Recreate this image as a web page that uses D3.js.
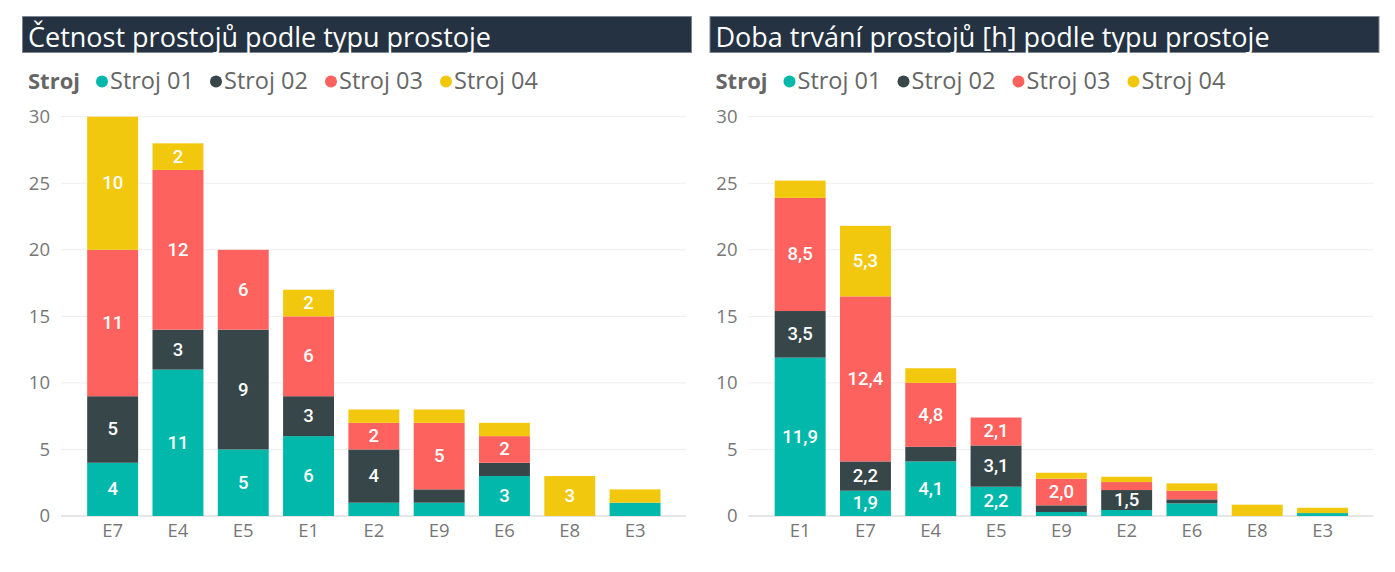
<!DOCTYPE html>
<html>
<head>
<meta charset="utf-8">
<script src="https://cdn.jsdelivr.net/npm/d3@7"></script>
<style>
  html, body { margin: 0; padding: 0; background: #fff; }
  svg { display: block; }
  text { font-family: "Segoe UI", "Open Sans", "Noto Sans", sans-serif; }
</style>
</head>
<body>
<svg id="chart" width="1395" height="572"></svg>
<script>
// ---------- DATA ----------
const seriesNames = ["Stroj 01", "Stroj 02", "Stroj 03", "Stroj 04"];
const seriesColors = ["#01B8AA", "#374649", "#FD625E", "#F2C80F"];
const yTicks = [0, 5, 10, 15, 20, 25, 30];

const countTitle = "Četnost prostojů podle typu prostoje";
const countCategories = ["E7", "E4", "E5", "E1", "E2", "E9", "E6", "E8", "E3"];
const countStroj01 = [4, 11, 5, 6, 1, 1, 3, 0, 1];
const countStroj02 = [5, 3, 9, 3, 4, 1, 1, 0, 0];
const countStroj03 = [11, 12, 6, 6, 2, 5, 2, 0, 0];
const countStroj04 = [10, 2, 0, 2, 1, 1, 1, 3, 1];

const durTitle = "Doba trvání prostojů [h] podle typu prostoje";
const durCategories = ["E1", "E7", "E4", "E5", "E9", "E2", "E6", "E8", "E3"];
const durStroj01 = [11.9, 1.9, 4.1, 2.2, 0.3, 0.45, 0.95, 0, 0.22];
const durStroj02 = [3.5, 2.2, 1.1, 3.1, 0.5, 1.5, 0.3, 0, 0];
const durStroj03 = [8.5, 12.4, 4.8, 2.1, 2.0, 0.6, 0.65, 0, 0];
const durStroj04 = [1.3, 5.3, 1.1, 0, 0.45, 0.4, 0.55, 0.85, 0.4];

// ---------- DRAW ----------
const svg = d3.select("#chart");

function buildRows(cats, arrays) {
  return cats.map((c, i) => {
    const row = { cat: c };
    seriesNames.forEach((s, k) => row[s] = arrays[k][i]);
    return row;
  });
}

function drawPanel(offsetX, title, cats, arrays, fmt) {
  const g = svg.append("g").attr("transform", `translate(${offsetX},0)`);

  // title bar
  g.append("rect")
    .attr("x", 22.5).attr("y", 16.5).attr("width", 669).attr("height", 36)
    .attr("fill", "#253242").attr("stroke", "#7d8591").attr("stroke-width", 1);
  g.append("text")
    .attr("x", 28).attr("y", 46.5)
    .attr("fill", "#ffffff").attr("font-size", 27)
    .text(title);

  // legend
  const leg = g.append("g").attr("transform", "translate(28,89)");
  leg.append("text").attr("x", 0).attr("y", 0)
    .attr("fill", "#666666").attr("font-size", 22).attr("font-weight", 700)
    .text("Stroj");
  const legendX = [74, 188, 303, 418];
  seriesNames.forEach((s, k) => {
    const it = leg.append("g").attr("transform", `translate(${legendX[k]},0)`);
    it.append("circle").attr("cx", 0).attr("cy", -7.5).attr("r", 6).attr("fill", seriesColors[k]);
    it.append("text").attr("x", 8).attr("y", 0)
      .attr("fill", "#666666").attr("font-size", 23.5).text(s);
  });

  // scales
  const y = d3.scaleLinear().domain([0, 30]).range([516, 116.7]);
  const x = d3.scaleBand().domain(cats).range([80, 667.7])
    .paddingInner(0.22).paddingOuter(0.11);

  // gridlines
  g.append("g").selectAll("line").data(yTicks).join("line")
    .attr("x1", 61).attr("x2", 686)
    .attr("y1", d => y(d)).attr("y2", d => y(d))
    .attr("stroke", d => d === 0 ? "#e6e6e6" : "#eeeeee")
    .attr("stroke-width", d => d === 0 ? 2 : 1);

  // y axis
  const yAxis = d3.axisLeft(y).tickValues(yTicks).tickSize(0).tickPadding(0);
  const ya = g.append("g").attr("transform", "translate(50,0)").call(yAxis);
  ya.select(".domain").remove();
  ya.selectAll("text").attr("fill", "#777777").attr("font-size", 18.5)
    .attr("font-family", '"Segoe UI", "Open Sans", sans-serif');

  // x axis
  const xAxis = d3.axisBottom(x).tickSize(0).tickPadding(0);
  const xa = g.append("g").attr("transform", "translate(0,524)").call(xAxis);
  xa.select(".domain").remove();
  xa.selectAll("text").attr("fill", "#777777").attr("font-size", 18.5)
    .attr("font-family", '"Segoe UI", "Open Sans", sans-serif');

  // stacked bars
  const rows = buildRows(cats, arrays);
  const stacked = d3.stack().keys(seriesNames)(rows);

  const layers = g.append("g").selectAll("g").data(stacked).join("g")
    .attr("fill", (d, k) => seriesColors[k]);
  layers.selectAll("rect").data(d => d.filter(p => p[1] - p[0] > 0)).join("rect")
    .attr("x", d => x(d.data.cat))
    .attr("width", x.bandwidth())
    .attr("y", d => y(d[1]))
    .attr("height", d => y(d[0]) - y(d[1]));

  // labels
  const labels = g.append("g");
  stacked.forEach((layer, k) => {
    layer.forEach(p => {
      const h = y(p[0]) - y(p[1]);
      if (h >= 19) {
        labels.append("text")
          .attr("x", x(p.data.cat) + x.bandwidth() / 2)
          .attr("y", (y(p[0]) + y(p[1])) / 2)
          .attr("text-anchor", "middle")
          .attr("dominant-baseline", "central")
          .attr("fill", "#ffffff")
          .attr("font-size", 18.5).attr("font-weight", 500)
          .style("font-family", "Roboto, sans-serif")
          .text(fmt(p[1] - p[0]));
      }
    });
  });
}

const fmtInt = d3.format("d");
const fmtDec = v => d3.format(".1f")(v).replace(".", ",");

drawPanel(0, countTitle, countCategories,
  [countStroj01, countStroj02, countStroj03, countStroj04], v => fmtInt(Math.round(v)));
drawPanel(687.5, durTitle, durCategories,
  [durStroj01, durStroj02, durStroj03, durStroj04], fmtDec);
</script>
</body>
</html>
